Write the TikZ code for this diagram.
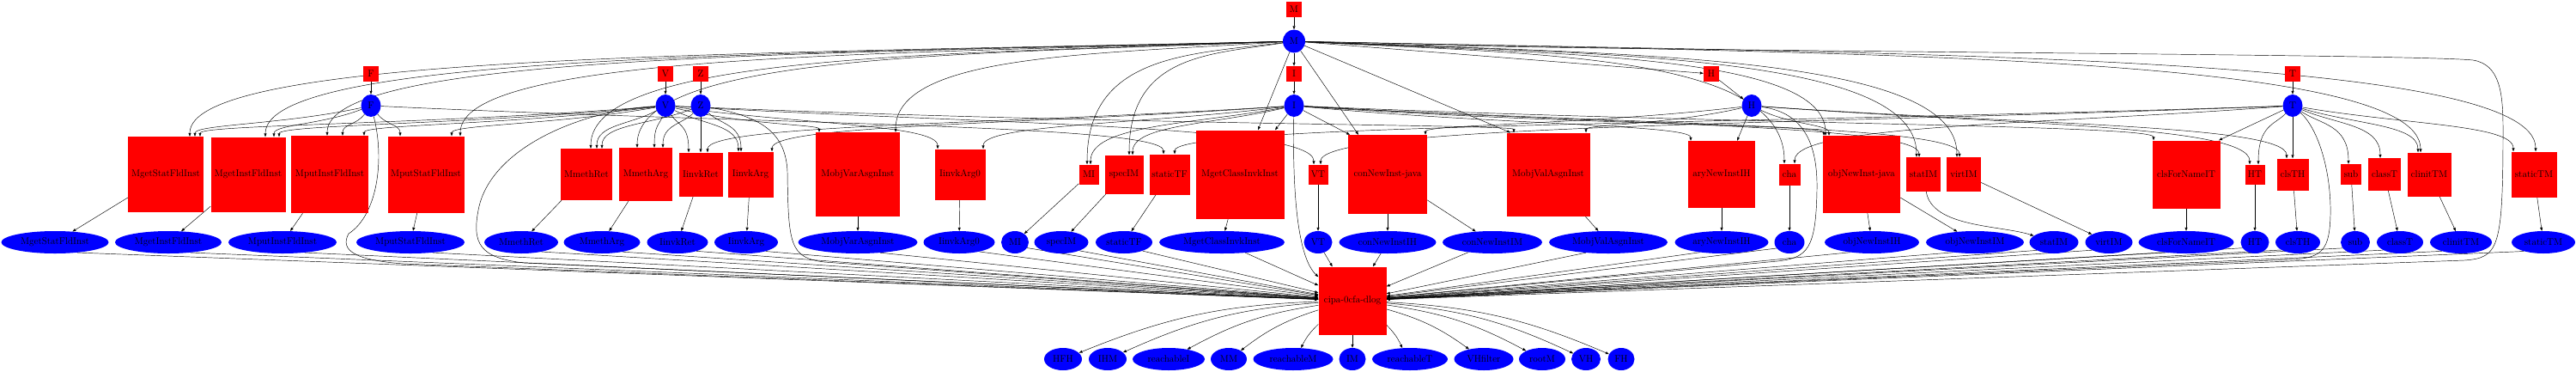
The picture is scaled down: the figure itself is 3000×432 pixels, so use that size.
\documentclass[tikz,border=0pt]{standalone}
\usetikzlibrary{shapes.geometric,arrows.meta,backgrounds,calc}
\newcommand\fnt{\fontsize{11.2}{13}\selectfont}
\tikzset{
 rb/.style={rectangle, fill=red, inner sep=0pt, font=\fnt, text=black},
 be/.style={ellipse, fill=blue, inner sep=0pt, minimum height=26, font=\fnt, text=black},
 e/.style={draw=black, line width=0.45pt, -{Triangle[length=4pt,width=3pt]}},
}
\newcommand\rbox[4]{\node[rb, minimum size=#4] (#1) at (#3,203) {#2};}
\newcommand\rell[4]{\node[be, minimum width=#4] (#1) at (#3,282) {#2};}
\newcommand\oell[4]{\node[be, minimum width=#4] (#1) at (#3,418) {#2};}
\newcommand\medge[3]{\draw[e] let \p1=(#1), \p2=([xshift=#3]#2.north) in (#1) .. controls ({(\x1+\x2)/2},{\y1-15pt}) and (\x2,{\y1-15pt}) .. (\p2);}
\newcommand\dedge[3]{\draw[e] let \p1=(#1), \p2=([xshift=#3]#2.north) in (#1) .. controls ({(\x1+\x2)/2},{\y1-22pt}) and (\x2,{\y1-22pt}) .. (\p2);}
\newcommand\sedge[3]{\draw[e] (#1) -- ([xshift=#3]#2.north);}
\begin{document}
\begin{tikzpicture}[x=1pt,y=-1pt]
\useasboundingbox (0,0) rectangle (3000,432);
% domains
\node[rb, minimum size=18] (Mb) at (1507,11) {M};
\node[be, minimum width=26, minimum height=27] (Mc) at (1507,48) {M};
\node[rb, minimum size=18] (Ib) at (1507,86) {I};
\node[be, minimum width=23] (Ic) at (1507,123) {I};
\node[rb, minimum size=18] (Fb) at (432,86) {F};
\node[be, minimum width=23] (Fc) at (432,123) {F};
\node[rb, minimum size=18] (Vb) at (775,86) {V};
\node[be, minimum width=23] (Vc) at (775,123) {V};
\node[rb, minimum size=18] (Zb) at (816,86) {Z};
\node[be, minimum width=23] (Zc) at (816,123) {Z};
\node[rb, minimum size=18] (Hb) at (1993,86) {H};
\node[be, minimum width=23] (Hc) at (2040,123) {H};
\node[rb, minimum size=18] (Tb) at (2670,86) {T};
\node[be, minimum width=23] (Tc) at (2670,123) {T};
% relations
\rbox{r1}{MgetStatFldInst}{193}{88}
\rbox{r2}{MgetInstFldInst}{289}{87}
\rbox{r3}{MputInstFldInst}{384}{90}
\rbox{r4}{MputStatFldInst}{496}{89}
\rbox{r5}{MmethRet}{683}{60}
\rbox{r6}{MmethArg}{752}{62}
\rbox{r7}{IinvkRet}{816}{51}
\rbox{r8}{IinvkArg}{874}{53}
\rbox{r9}{MobjVarAsgnInst}{999}{98}
\rbox{r10}{IinvkArg0}{1118}{59}
\rbox{r11}{MI}{1268}{23}
\rbox{r12}{specIM}{1309}{45}
\rbox{r13}{staticTF}{1362}{47}
\rbox{r14}{MgetClassInvkInst}{1444}{103}
\rbox{r15}{VT}{1535}{23}
\rbox{r16}{conNewInst-java}{1616}{92}
\rbox{r17}{MobjValAsgnInst}{1803}{97}
\rbox{r18}{aryNewInstIH}{2005}{78}
\rbox{r19}{cha}{2084}{25}
\rbox{r20}{objNewInst-java}{2168}{90}
\rbox{r21}{statIM}{2240}{40}
\rbox{r22}{virtIM}{2287}{40}
\rbox{r23}{clsForNameIT}{2546}{79}
\rbox{r24}{HT}{2626}{23}
\rbox{r25}{clsTH}{2670}{37}
\rbox{r26}{sub}{2738}{24}
\rbox{r27}{classT}{2777}{38}
\rbox{r28}{clinitTM}{2829}{51}
\rbox{r29}{staticTM}{2951}{53}
% relation inputs
\rell{e1}{MgetStatFldInst}{64}{125}
\rell{e2}{MgetInstFldInst}{196}{124}
\rell{e3}{MputInstFldInst}{329}{126}
\rell{e4}{MputStatFldInst}{478}{126}
\rell{e5}{MmethRet}{607}{86}
\rell{e6}{MmethArg}{701}{89}
\rell{e7}{IinvkRet}{789}{71}
\rell{e8}{IinvkArg}{869}{74}
\rell{e9}{MobjVarAsgnInst}{999}{139}
\rell{e10}{IinvkArg0}{1117}{83}
\rell{e11}{MI}{1182}{32}
\rell{e12}{specIM}{1236}{63}
\rell{e13}{staticTF}{1309}{66}
\rell{e14}{MgetClassInvkInst}{1423}{146}
\rell{e15}{VT}{1535}{33}
\rell{e16}{conNewInstIH}{1616}{113}
\rell{e17}{conNewInstIM}{1738}{116}
\rell{e18}{MobjValAsgnInst}{1873}{138}
\rell{e19}{aryNewInstIH}{2005}{109}
\rell{e20}{cha}{2084}{35}
\rell{e21}{objNewInstIH}{2180}{110}
\rell{e22}{objNewInstIM}{2300}{114}
\rell{e23}{statIM}{2392}{57}
\rell{e24}{virtIM}{2456}{55}
\rell{e25}{clsForNameIT}{2546}{111}
\rell{e26}{HT}{2626}{33}
\rell{e27}{clsTH}{2676}{52}
\rell{e28}{sub}{2743}{34}
\rell{e29}{classT}{2795}{54}
\rell{e30}{clinitTM}{2866}{72}
\rell{e31}{staticTM}{2962}{74}
% program
\node[rb, minimum size=79] (cipa) at (1575,350) {cipa-0cfa-dlog};
% outputs
\oell{o1}{HFH}{1238}{44}
\oell{o2}{IHM}{1290}{44}
\oell{o3}{reachableI}{1361}{84}
\oell{o4}{MM}{1431}{42}
\oell{o5}{reachableM}{1506}{93}
\oell{o6}{IM}{1575}{31}
\oell{o7}{reachableT}{1642}{88}
\oell{o8}{VHfilter}{1728}{69}
\oell{o9}{rootM}{1796}{54}
\oell{o10}{VH}{1847}{34}
\oell{o11}{FH}{1888}{31}
\begin{pgfonlayer}{background}
% domain chain
\draw[e] (Mb) -- (Mc);
\draw[e] (Mc) -- (Ib);
\draw[e] (Ib) -- (Ic);
\draw[e] (Mc) -- (Hb);
\draw[e] (Hb) -- (Hc);
\draw[e] (Fb) -- (Fc);
\draw[e] (Vb) -- (Vc);
\draw[e] (Zb) -- (Zc);
\draw[e] (Tb) -- (Tc);
% M
\medge{Mc}{r1}{28}
\medge{Mc}{r2}{20}
\medge{Mc}{r3}{-3}
\medge{Mc}{r4}{40}
\medge{Mc}{r5}{5}
\medge{Mc}{r6}{-10}
\medge{Mc}{r9}{44}
\medge{Mc}{r11}{-2}
\medge{Mc}{r12}{6}
\sedge{Mc}{r14}{21}
\sedge{Mc}{r16}{-34}
\sedge{Mc}{r17}{-44}
\medge{Mc}{r19}{-6}
\medge{Mc}{r20}{-42}
\medge{Mc}{r21}{-8}
\medge{Mc}{r22}{-8}
\medge{Mc}{r28}{-10}
\medge{Mc}{r29}{2}
% F
\dedge{Fc}{r1}{34}
\dedge{Fc}{r2}{30}
\dedge{Fc}{r3}{15}
\dedge{Fc}{r4}{-30}
\dedge{Fc}{r13}{-7}
% V
\dedge{Vc}{r1}{40}
\dedge{Vc}{r2}{36}
\dedge{Vc}{r3}{40}
\dedge{Vc}{r4}{30}
\dedge{Vc}{r5}{12}
\dedge{Vc}{r6}{10}
\dedge{Vc}{r7}{-14}
\dedge{Vc}{r8}{-14}
\dedge{Vc}{r9}{-45}
\dedge{Vc}{r10}{-26}
\dedge{Vc}{r15}{-5}
\dedge{Vc}{r17}{-40}
% Z
\dedge{Zc}{r5}{18}
\dedge{Zc}{r6}{20}
\dedge{Zc}{r7}{0}
\dedge{Zc}{r8}{-11}
% I
\dedge{Ic}{r7}{8}
\dedge{Ic}{r8}{25}
\dedge{Ic}{r10}{27}
\dedge{Ic}{r11}{2}
\dedge{Ic}{r12}{10}
\sedge{Ic}{r14}{41}
\sedge{Ic}{r16}{-44}
\dedge{Ic}{r18}{-36}
\dedge{Ic}{r20}{-44}
\dedge{Ic}{r21}{-5}
\dedge{Ic}{r22}{-5}
\dedge{Ic}{r23}{-38}
% H
\dedge{Hc}{r16}{44}
\dedge{Hc}{r17}{44}
\sedge{Hc}{r18}{18}
\dedge{Hc}{r20}{-38}
\dedge{Hc}{r24}{-6}
\dedge{Hc}{r25}{-7}
% T
\dedge{Tc}{r13}{6}
\dedge{Tc}{r15}{3}
\dedge{Tc}{r19}{6}
\sedge{Tc}{r23}{38}
\dedge{Tc}{r24}{4}
\dedge{Tc}{r25}{0}
\dedge{Tc}{r26}{-3}
\dedge{Tc}{r27}{-5}
\dedge{Tc}{r28}{-13}
\dedge{Tc}{r29}{-24}
% relation -> input
\foreach \a/\b in {r1/e1,r2/e2,r3/e3,r4/e4,r5/e5,r6/e6,r7/e7,r8/e8,r9/e9,r10/e10,r11/e11,r12/e12,r13/e13,r14/e14,r15/e15,r16/e16,r16/e17,r17/e18,r18/e19,r19/e20,r20/e21,r20/e22,r22/e24,r23/e25,r24/e26,r25/e27,r26/e28,r27/e29,r28/e30,r29/e31}
  {\draw[e] (\a) -- (\b);}
\draw[e] (r21) .. controls (2250,265) and (2330,262) .. (e23);
% input -> program
\foreach \n in {e1,e2,e3,e4,e5,e6,e7,e8,e9,e10,e11,e12,e13}
  {\draw[e] (\n.-25) -- (cipa);}
\foreach \n in {e14,e15,e16,e17}
  {\draw[e] (\n) -- (cipa);}
\foreach \n in {e18,e19,e20,e21,e22,e23,e24,e25,e26,e27,e28,e29,e30,e31}
  {\draw[e] (\n.205) -- (cipa);}
% domains -> program
\draw[e] (Fc) .. controls (448,185) and (440,250) .. (406,272) .. controls (395,292) and (415,303) .. (470,307) -- (cipa);
\draw[e] (Vc) .. controls (680,128) and (575,170) .. (558,240) .. controls (548,285) and (560,300) .. (610,306) -- (cipa);
\draw[e] (Zc) .. controls (880,135) and (915,150) .. (917,200) .. controls (918,285) and (920,300) .. (960,305) -- (cipa);
\draw[e] (Ic) .. controls (1505,230) and (1512,300) .. ([yshift=-12pt]cipa.north west);
\draw[e] (Hc) .. controls (2095,130) and (2117,160) .. (2116,220) .. controls (2115,290) and (2105,300) .. (2070,304) -- (cipa);
\draw[e] (Tc) .. controls (2700,150) and (2715,200) .. (2714,250) .. controls (2713,290) and (2705,300) .. (2670,302) -- (cipa);
\draw[e] (Mc) .. controls (1800,60) and (2800,62) .. (2880,70) .. controls (2912,75) and (2915,110) .. (2915,150) .. controls (2915,290) and (2910,300) .. (2870,303) -- (cipa);
% program -> outputs
\foreach \n in {o1,o2,o3,o4,o5}
  {\draw[e] (cipa) to[bend right=10] (\n);}
\draw[e] (cipa) -- (o6);
\foreach \n in {o7,o8,o9,o10,o11}
  {\draw[e] (cipa) to[bend left=10] (\n);}
\end{pgfonlayer}
\end{tikzpicture}
\end{document}
